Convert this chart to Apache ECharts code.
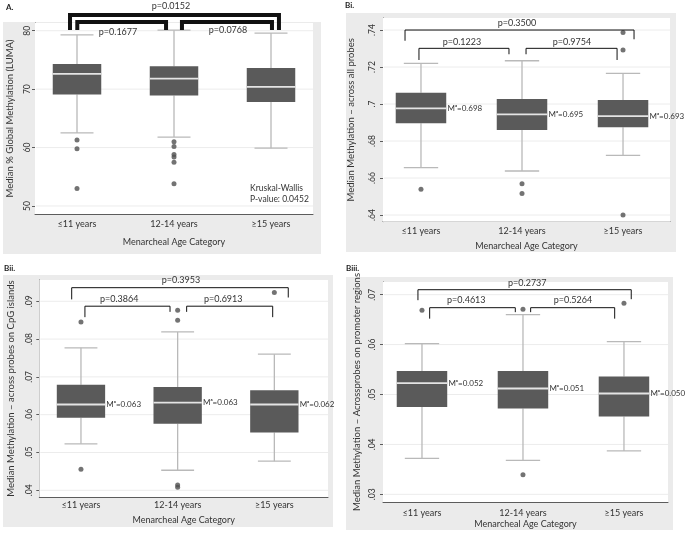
<!DOCTYPE html>
<html><head><meta charset="utf-8">
<script src="https://cdn.jsdelivr.net/npm/echarts@6/dist/echarts.min.js"></script>
<style>html,body{margin:0;padding:0;background:#fff}#c{width:686px;height:534px}</style>
</head><body><div id="c"></div>
<script>
// ---------------- DATA ----------------
const categories = ['≤11 years', '12-14 years', '≥15 years'];
const xTitle = 'Menarcheal Age Category';

// Panel A: [lower whisker, Q1, median, Q3, upper whisker]
const ticksA = [50, 60, 70, 80];
const boxA = [
  [62.5, 69.1, 72.6, 74.3, 79.3],
  [61.8, 68.9, 71.8, 73.9, 80.1],
  [59.9, 67.8, 70.4, 73.6, 79.6]
];
const outGroupA = [0, 0, 0, 1, 1, 1, 1, 1, 1];
const outValueA = [61.3, 59.8, 53.0, 61.0, 60.2, 58.8, 58.4, 57.5, 53.8];
const pValuesA = ['p=0.0152', 'p=0.1677', 'p=0.0768'];
const noteA = 'Kruskal-Wallis\nP-value: 0.0452';

// Panel Bi
const ticksBi = [0.64, 0.66, 0.68, 0.70, 0.72, 0.74];
const boxBi = [
  [0.6656, 0.6896, 0.6977, 0.7061, 0.7220],
  [0.6638, 0.6860, 0.6944, 0.7027, 0.7234],
  [0.6723, 0.6874, 0.6935, 0.7022, 0.7166]
];
const outGroupBi = [0, 1, 1, 2, 2, 2];
const outValueBi = [0.6539, 0.6569, 0.6517, 0.7386, 0.7292, 0.6400];
const pValuesBi = ['p=0.3500', 'p=0.1223', 'p=0.9754'];
const medLabelsBi = ['0.698', '0.695', '0.693'];

// Panel Bii
const ticksBii = [0.04, 0.05, 0.06, 0.07, 0.08, 0.09];
const boxBii = [
  [0.0523, 0.0592, 0.0627, 0.0679, 0.0777],
  [0.0453, 0.0576, 0.0632, 0.0673, 0.0819],
  [0.0477, 0.0553, 0.0627, 0.0665, 0.0760]
];
const outGroupBii = [0, 0, 1, 1, 1, 1, 2];
const outValueBii = [0.0845, 0.0456, 0.0876, 0.0850, 0.0414, 0.0408, 0.0923];
const pValuesBii = ['p=0.3953', 'p=0.3864', 'p=0.6913'];
const medLabelsBii = ['0.063', '0.063', '0.062'];

// Panel Biii
const ticksBiii = [0.03, 0.04, 0.05, 0.06, 0.07];
const boxBiii = [
  [0.0372, 0.0475, 0.0523, 0.0547, 0.0602],
  [0.0368, 0.0472, 0.0512, 0.0547, 0.0660],
  [0.0387, 0.0456, 0.0502, 0.0536, 0.0606]
];
const outGroupBiii = [0, 1, 1, 2];
const outValueBiii = [0.0669, 0.0671, 0.0339, 0.0683];
const pValuesBiii = ['p=0.2737', 'p=0.4613', 'p=0.5264'];
const medLabelsBiii = ['0.052', '0.051', '0.050'];

// ---------------- LAYOUT / STYLE ----------------
const FONT = 'Lato, "Open Sans", sans-serif';
const BOX_FILL = '#5a5a5a', WHISK = '#b9b9b9', MED = '#e4e4e4', OUT = '#505050';
const AXIS = '#5c5c5c', GRIDLINE = '#ececec', PANEL_BG = '#ebebeb';

const panels = [
  {
    tag: 'A.', tagPos: [6, 3], bg: [3, 22, 318, 232],
    grid: {left: 35, top: 23, width: 278, height: 191},
    xr: [-0.433, 2.433], yr: [48.63, 81.32],
    ticks: ticksA, fmt: v => String(Math.round(v)),
    yName: 'Median % Global Methylation (LUMA)', yNameGap: 20, yLabMargin: 3,
    xLabMargin: 6, xNameGap: 24,
    box: boxA, og: outGroupA, ov: outValueA, p: pValuesA, med: null,
    thick: 4,
    br: [
      {x1: -0.072, x2: 2.082, top: 82.69, l: 80.12, r: 80.12, tx: 0.969, ty: 84.23},
      {x1: 0.003, x2: 0.918, top: 81.49, l: 80.12, r: 80.12, tx: 0.423, ty: 79.78},
      {x1: 1.082, x2: 2.010, top: 81.49, l: 80.12, r: 80.12, tx: 1.557, ty: 80.12}
    ],
    note: noteA, notePos: [1.784, 52.15]
  },
  {
    tag: 'Bi.', tagPos: [345, 1], bg: [346, 13, 330, 239],
    grid: {left: 383, top: 18, width: 287, height: 203.7},
    xr: [-0.376, 2.465], yr: [0.6364, 0.7465],
    ticks: ticksBi, fmt: v => String(+v.toFixed(3)).replace(/^0\./, '.'),
    yName: 'Median Methylation – across all probes', yNameGap: 27, yLabMargin: 6,
    xLabMargin: 5, xNameGap: 20,
    box: boxBi, og: outGroupBi, ov: outValueBi, p: pValuesBi, med: medLabelsBi,
    thick: 1,
    br: [
      {x1: -0.158, x2: 2.109, top: 0.7400, l: 0.7342, r: 0.7350, tx: 0.950, ty: 0.7439},
      {x1: -0.020, x2: 0.871, top: 0.7301, l: 0.7238, r: 0.7269, tx: 0.406, ty: 0.7337},
      {x1: 1.040, x2: 1.941, top: 0.7301, l: 0.7269, r: 0.7238, tx: 1.495, ty: 0.7337}
    ]
  },
  {
    tag: 'Bii.', tagPos: [4, 264], bg: [3, 275, 330, 252],
    grid: {left: 39.3, top: 280, width: 288.7, height: 217},
    xr: [-0.431, 2.555], yr: [0.03823, 0.09563],
    ticks: ticksBii, fmt: v => String(+v.toFixed(3)).replace(/^0\./, '.'),
    yName: 'Median Methylation – across probes on CpG islands', yNameGap: 23, yLabMargin: 6,
    xLabMargin: 4, xNameGap: 19,
    box: boxBii, og: outGroupBii, ov: outValueBii, p: pValuesBii, med: medLabelsBii,
    thick: 1,
    br: [
      {x1: -0.096, x2: 2.144, top: 0.0936, l: 0.0905, r: 0.0910, tx: 1.034, ty: 0.0956},
      {x1: 0.041, x2: 0.921, top: 0.0887, l: 0.0858, r: 0.0872, tx: 0.396, ty: 0.0905},
      {x1: 1.093, x2: 1.983, top: 0.0887, l: 0.0872, r: 0.0858, tx: 1.472, ty: 0.0905}
    ]
  },
  {
    tag: 'Biii.', tagPos: [346, 264], bg: [346, 277, 327, 253],
    grid: {left: 383, top: 282, width: 285, height: 220},
    xr: [-0.386, 2.436], yr: [0.02846, 0.072545],
    ticks: ticksBiii, fmt: v => String(+v.toFixed(3)).replace(/^0\./, '.'),
    yName: 'Median Methylation – Acrossprobes on promoter regions', yNameGap: 21, yLabMargin: 6,
    xLabMargin: 7, xNameGap: 18,
    box: boxBiii, og: outGroupBiii, ov: outValueBiii, p: pValuesBiii, med: medLabelsBiii,
    thick: 1,
    br: [
      {x1: -0.040, x2: 2.072, top: 0.0710, l: 0.0689, r: 0.0691, tx: 1.043, ty: 0.0723},
      {x1: 0.076, x2: 0.924, top: 0.0674, l: 0.0652, r: 0.0665, tx: 0.439, ty: 0.0689},
      {x1: 1.076, x2: 1.908, top: 0.0674, l: 0.0665, r: 0.0652, tx: 1.495, ty: 0.0689}
    ]
  }
];

// ---------------- BUILD ----------------
const grids = [], xAxes = [], yAxes = [], series = [], graphics = [];

panels.forEach((P, k) => {
  graphics.push({type: 'rect', z: -10, shape: {x: P.bg[0], y: P.bg[1], width: P.bg[2], height: P.bg[3]},
    style: {fill: PANEL_BG}, silent: true});
  graphics.push({type: 'text', z: 10, x: P.tagPos[0], y: P.tagPos[1],
    style: {text: P.tag, font: 'bold 8px ' + FONT, fill: '#222'}});

  grids.push(Object.assign({show: true, backgroundColor: '#fff', borderWidth: 0, z: 1}, P.grid));

  xAxes.push({
    gridIndex: k, type: 'value', min: P.xr[0], max: P.xr[1],
    axisLine: {show: true, onZero: false, lineStyle: {color: AXIS, width: 1}},
    axisTick: {show: false},
    splitLine: {show: false},
    axisLabel: {customValues: [0, 1, 2], formatter: v => categories[Math.round(v)],
      color: '#333', fontFamily: FONT, fontSize: 9, margin: P.xLabMargin},
    name: xTitle, nameLocation: 'middle', nameGap: P.xNameGap,
    nameTextStyle: {color: '#333', fontFamily: FONT, fontSize: 9}
  });

  yAxes.push({
    gridIndex: k, type: 'value', min: P.yr[0], max: P.yr[1],
    axisLine: {show: true, onZero: false, lineStyle: {color: AXIS, width: 1}},
    axisTick: {show: true, customValues: P.ticks, length: 3, lineStyle: {color: AXIS}},
    splitLine: {show: false},
    axisLabel: {customValues: P.ticks, formatter: P.fmt, rotate: 90,
      color: '#333', fontFamily: FONT, fontSize: 8.5, margin: P.yLabMargin},
    name: P.yName, nameLocation: 'middle', nameGap: P.yNameGap,
    nameTextStyle: {color: '#333', fontFamily: FONT, fontSize: 9.5}
  });

  // grid lines at ticks
  series.push({
    type: 'custom', xAxisIndex: k, yAxisIndex: k, z: 2, silent: true,
    data: P.ticks.map(v => [P.xr[0], v]),
    encode: {x: 0, y: 1},
    renderItem: (params, api) => {
      const y = api.coord([api.value(0), api.value(1)])[1];
      const cs = params.coordSys;
      return {type: 'line', shape: {x1: cs.x + 1, y1: y, x2: cs.x + cs.width, y2: y},
        style: {stroke: GRIDLINE, lineWidth: 1}};
    }
  });

  // boxes
  series.push({
    type: 'custom', xAxisIndex: k, yAxisIndex: k, z: 3, silent: true,
    data: P.box.map((b, i) => [i].concat(b)),
    encode: {x: 0, y: [1, 2, 3, 4, 5]},
    renderItem: (params, api) => {
      const x = api.value(0);
      const unit = api.size([1, 0])[0];
      const bw = unit * 0.5, cw = unit * 0.34;
      const c = v => api.coord([x, v]);
      const lo = c(api.value(1)), q1 = c(api.value(2)), md = c(api.value(3)),
            q3 = c(api.value(4)), hi = c(api.value(5));
      const cx = lo[0];
      const ws = {stroke: WHISK, lineWidth: 1.3};
      return {type: 'group', children: [
        {type: 'line', shape: {x1: cx, y1: hi[1], x2: cx, y2: q3[1]}, style: ws},
        {type: 'line', shape: {x1: cx, y1: q1[1], x2: cx, y2: lo[1]}, style: ws},
        {type: 'line', shape: {x1: cx - cw / 2, y1: hi[1], x2: cx + cw / 2, y2: hi[1]}, style: ws},
        {type: 'line', shape: {x1: cx - cw / 2, y1: lo[1], x2: cx + cw / 2, y2: lo[1]}, style: ws},
        {type: 'rect', shape: {x: cx - bw / 2, y: q3[1], width: bw, height: q1[1] - q3[1]},
          style: {fill: BOX_FILL}},
        {type: 'line', shape: {x1: cx - bw / 2, y1: md[1], x2: cx + bw / 2, y2: md[1]},
          style: {stroke: MED, lineWidth: 1.8}}
      ]};
    }
  });

  // outliers
  series.push({
    type: 'scatter', xAxisIndex: k, yAxisIndex: k, z: 4, silent: true,
    symbol: 'circle', symbolSize: 5,
    itemStyle: {color: OUT},
    data: P.og.map((g, i) => [g, P.ov[i]])
  });

  // brackets
  series.push({
    type: 'custom', xAxisIndex: k, yAxisIndex: k, z: 5, silent: true, clip: false,
    data: P.br.map(b => [b.x1, b.x2, b.top, b.l, b.r]),
    renderItem: (params, api) => {
      const a = api.coord([api.value(0), api.value(3)]);
      const b = api.coord([api.value(0), api.value(2)]);
      const c = api.coord([api.value(1), api.value(2)]);
      const d = api.coord([api.value(1), api.value(4)]);
      return {type: 'polyline', shape: {points: [a, b, c, d]},
        style: {stroke: '#111', lineWidth: P.thick, fill: null, lineJoin: 'miter'}};
    }
  });

  // texts: p-values, median labels, note
  const texts = [];
  P.br.forEach((b, i) => texts.push({x: b.tx, y: b.ty, t: P.p[i], align: 'center', size: 9}));
  if (P.med) P.med.forEach((m, i) => texts.push({x: i + 0.262, y: P.box[i][2], t: 'Mᵃ=' + m, align: 'left', size: 8}));
  if (P.note) texts.push({x: P.notePos[0], y: P.notePos[1], t: P.note, align: 'left', size: 8.5});
  series.push({
    type: 'custom', xAxisIndex: k, yAxisIndex: k, z: 6, silent: true, clip: false,
    data: texts.map(t => [t.x, t.y]),
    renderItem: (params, api) => {
      const t = texts[params.dataIndex];
      const p = api.coord([api.value(0), api.value(1)]);
      return {type: 'text', x: p[0], y: p[1],
        style: {text: t.t, fill: '#333', font: t.size + 'px ' + FONT,
          align: t.align, verticalAlign: 'middle', lineHeight: 11}};
    }
  });
});

const chart = echarts.init(document.getElementById('c'), null, {renderer: 'canvas'});
chart.setOption({
  backgroundColor: '#fff',
  animation: false,
  graphic: graphics,
  grid: grids,
  xAxis: xAxes,
  yAxis: yAxes,
  series: series
});
</script>
</body></html>
